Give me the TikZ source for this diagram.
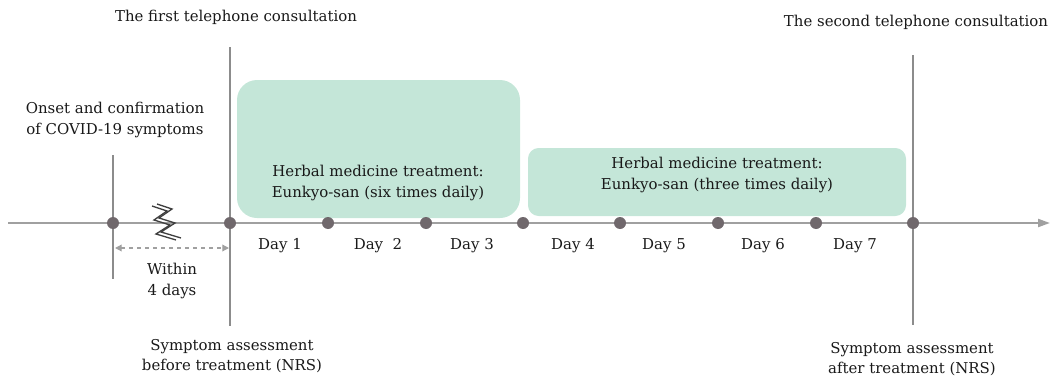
\documentclass[tikz,border=0pt]{standalone}
\usepackage{fontspec}
\setmainfont{DejaVu Serif}
\definecolor{mymint}{RGB}{196,230,216}
\definecolor{myaxis}{RGB}{160,160,160}
\definecolor{mydot}{RGB}{112,104,108}
\definecolor{myline}{RGB}{140,140,140}
\usetikzlibrary{arrows.meta,positioning}
\tikzset{>={Triangle[length=5pt,width=5pt]}}

\begin{document}
\begin{tikzpicture}[x=0.75pt, y=-0.75pt, font=\fontsize{11.2}{15.5}\selectfont,
    dot/.style = {circle, fill=mydot, inner sep=0pt, minimum size=9pt},
    lbl/.style = {align=center, text=black!90, inner sep=1pt},
    treat/.style = {fill=mymint, draw=none},
    vline/.style = {draw=myline, line width=0.8pt}]
    \useasboundingbox (0,0) rectangle (1057,382);
    % treatment periods
    \fill[treat, rounded corners=15pt] (237,80) rectangle (520,218);
    \fill[treat, rounded corners=8pt] (528,148) rectangle (906,216);
    % vertical markers
    \coordinate (v0t) at (113,155); \coordinate (v0b) at (113,279);
    \coordinate (v1t) at (230,47);  \coordinate (v1b) at (230,326);
    \coordinate (v2t) at (913,55);  \coordinate (v2b) at (913,325);
    \draw[vline] (v0t) -- (v0b);
    \draw[vline] (v1t) -- (v1b);
    \draw[vline] (v2t) -- (v2b);
    % time axis
    \coordinate (axs) at (8,223);
    \coordinate (axe) at (1050,223);
    \draw[draw=myaxis, line width=1.6pt, -{Triangle[length=9pt,width=6pt]}] (axs) -- (axe);
    \foreach \n/\x in {0/113,1/230,2/328,3/426,4/523,5/620,6/718,7/816,8/913}
    {%
        \node[dot] (d\n) at (\x,223) {};
    };
    % days
    \foreach \n/\x/\t in {1/280/Day 1,2/378/Day\ \ 2,3/472/Day 3,4/573/Day 4,5/664/Day 5,6/763/Day 6,7/855/Day 7}
    {%
        \node[lbl] (day\n) at (\x,246) {\t};
    };
    % break symbol
    \draw[black!75, line width=1pt, line join=miter]
        (152,206) -- (167,211) -- (154,220) -- (170,225) -- (156,234) -- (176,240);
    \draw[black!75, line width=1pt, line join=miter]
        (157,204) -- (172,209) -- (159,218) -- (175,223) -- (161,232) -- (181,238);
    % within 4 days
    \coordinate (w0) at (115,248);
    \coordinate (w1) at (229,248);
    \draw[myaxis, dashed, line width=0.9pt, <->] (w0) -- (w1);
    \node[lbl] (within) at (172,281) {Within\\4 days};
    % labels
    \node[lbl] (first) at (236,17) {The first telephone consultation};
    \node[lbl] (second) at (916,22) {The second telephone consultation};
    \node[lbl] (onset) at (115,120) {Onset and confirmation\\of COVID-19 symptoms};
    \node[lbl] (herb1) at (378,183) {Herbal medicine treatment:\\Eunkyo-san (six times daily)};
    \node[lbl] (herb2) at (717,175) {Herbal medicine treatment:\\Eunkyo-san (three times daily)};
    \node[lbl] (before) at (232,356) {Symptom assessment\\before treatment (NRS)};
    \node[lbl] (after) at (912,359) {Symptom assessment\\after treatment (NRS)};
\end{tikzpicture}
\end{document}
